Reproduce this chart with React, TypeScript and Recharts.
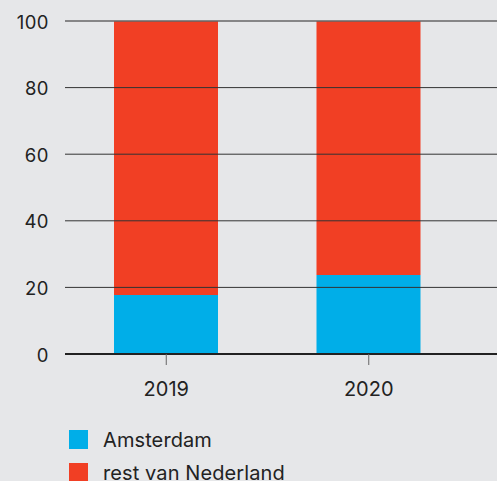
import React from "react";
import { BarChart, Bar, XAxis, YAxis, ReferenceLine, Legend } from "recharts";

const categories = ["2019", "2020"];
const amsterdam = [17.7, 23.7];
const restNL = [82.3, 76.3];
const yTicks = [0, 20, 40, 60, 80, 100];
const seriesNames = ["Amsterdam", "rest van Nederland"];

const data = categories.map((c, i) => ({
  year: c,
  amsterdam: amsterdam[i],
  rest: restNL[i],
}));

const FONT = "Inter, 'Noto Sans', sans-serif";
const BLUE = "#00AEE8";
const RED = "#F13F24";
const BG = "#E6E7E9";

const LegendContent = (props: any) => {
  const payload = props.payload || [];
  return (
    <div style={{ fontFamily: FONT }}>
      {payload.map((p: any, i: number) => (
        <div key={i} style={{ display: "flex", alignItems: "center", height: 33 }}>
          <div style={{ width: 19, height: 19, background: p.color, marginRight: 15 }} />
          <span style={{ fontSize: 20, color: "#222", letterSpacing: 0.1 }}>{p.value}</span>
        </div>
      ))}
    </div>
  );
};

export default function App() {
  return (
    <div
      style={{
        position: "fixed",
        left: 0,
        top: 0,
        width: 497,
        height: 481,
        background: BG,
        overflow: "hidden",
      }}
    >
      <BarChart
        width={497}
        height={481}
        data={data}
        margin={{ top: 21, right: 0, left: 0, bottom: 0 }}
      >
        <XAxis
          dataKey="year"
          height={127}
          padding={{ left: 0, right: 27 }}
          tickSize={11}
          tickMargin={17}
          tickLine={{ stroke: "#666", strokeWidth: 1 }}
          axisLine={{ stroke: "#222", strokeWidth: 2 }}
          tick={{ fill: "#222", fontSize: 20, fontFamily: FONT }}
        />
        <YAxis
          width={65}
          domain={[0, 100]}
          ticks={yTicks}
          tickLine={false}
          axisLine={false}
          tickSize={0}
          tickMargin={16}
          tick={{ fill: "#222", fontSize: 18.5, fontFamily: FONT, letterSpacing: 0.5, dy: 1 }}
        />
        <Bar
          dataKey="amsterdam"
          name={seriesNames[0]}
          stackId="a"
          fill={BLUE}
          barSize={104}
          isAnimationActive={false}
        />
        <Bar
          dataKey="rest"
          name={seriesNames[1]}
          stackId="a"
          fill={RED}
          barSize={104}
          isAnimationActive={false}
        />
        {yTicks
          .filter((t) => t > 0)
          .map((t) => (
            <ReferenceLine
              key={t}
              y={t}
              stroke={t === 100 ? "#666" : "#333"}
              strokeWidth={t === 100 ? 1.5 : 1}
            />
          ))}
        <Legend
          layout="vertical"
          align="center"
          verticalAlign="middle"
          wrapperStyle={{ top: 423, left: 69, width: 320 }}
          content={<LegendContent />}
        />
      </BarChart>
    </div>
  );
}
